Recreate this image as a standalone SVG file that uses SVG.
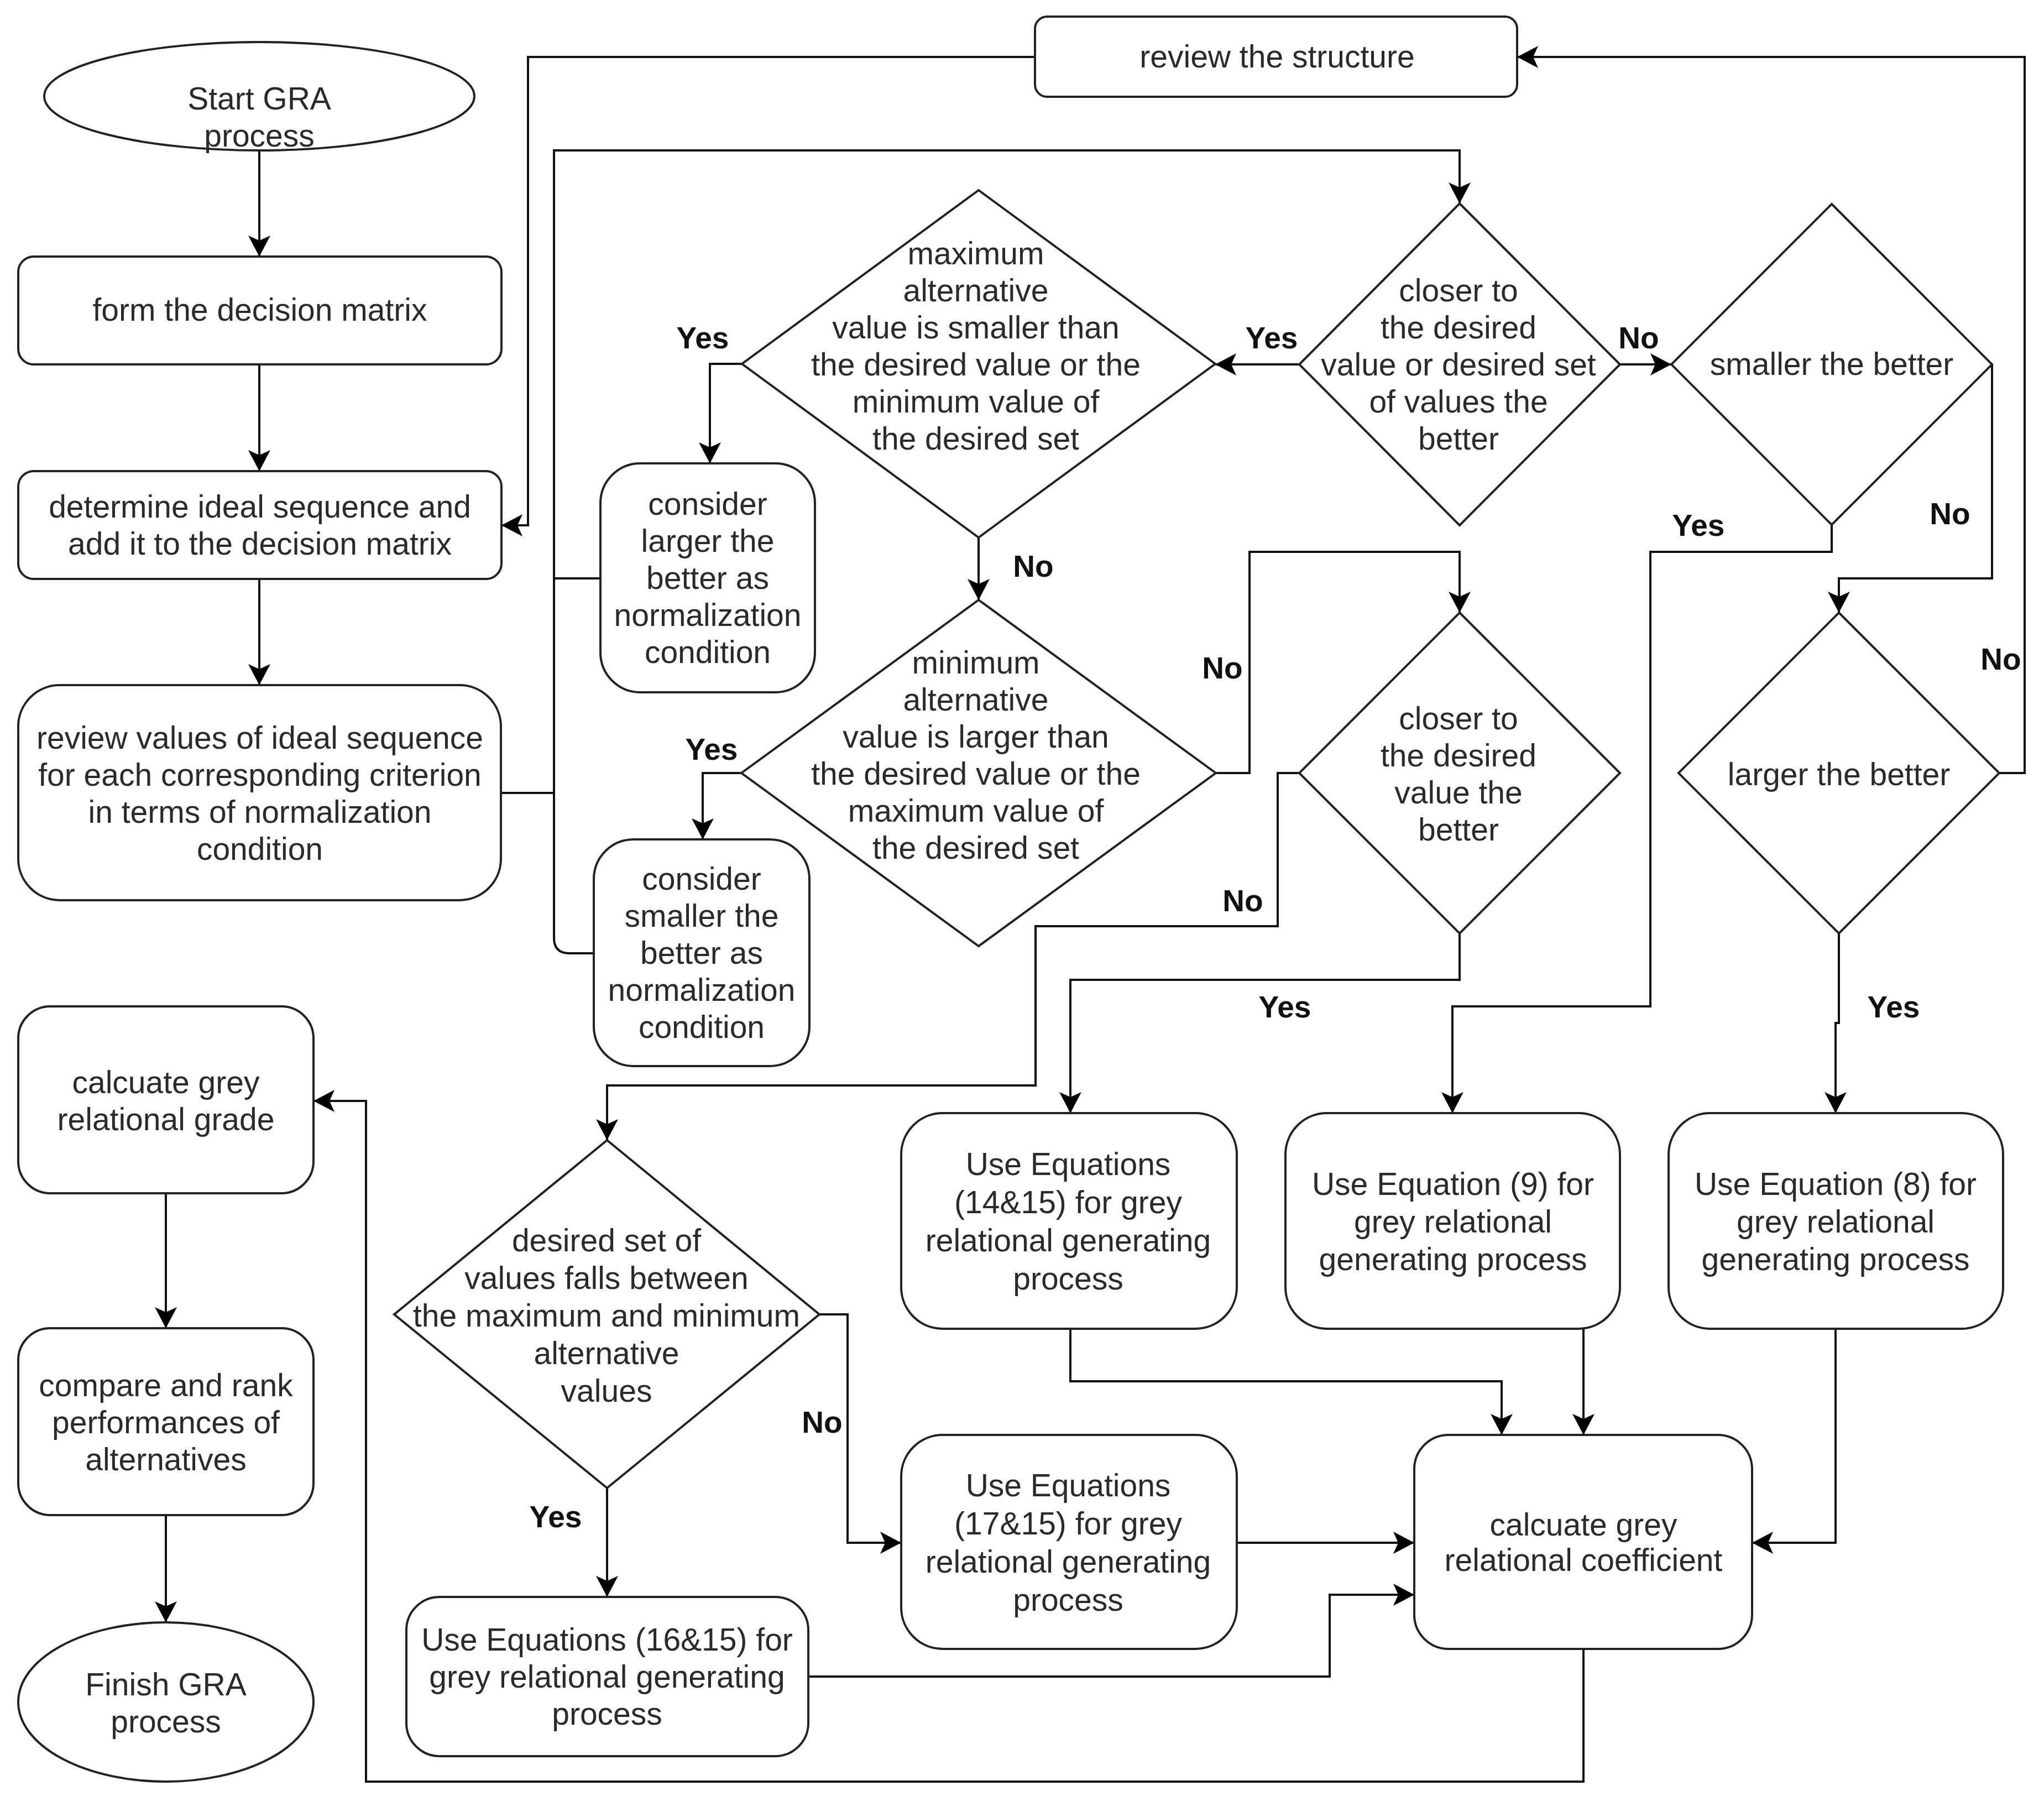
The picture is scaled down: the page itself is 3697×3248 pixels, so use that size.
<svg xmlns="http://www.w3.org/2000/svg" width="3697" height="3248" viewBox="0 0 3697 3248">
<style>
.n{fill:#fff;stroke:#222;stroke-width:4}
.t{font-family:"Liberation Sans",Arial,sans-serif;font-size:57px;fill:#2a2a2a;text-anchor:middle}
.l{font-family:"Liberation Sans",Arial,sans-serif;font-size:55px;font-weight:bold;fill:#111;text-anchor:middle}
.c{fill:none;stroke:#111;stroke-width:4}
.a{marker-end:url(#arr)}
</style>
<defs>
<marker id="arr" viewBox="0 0 38 40" refX="38" refY="20" markerWidth="38" markerHeight="40" markerUnits="userSpaceOnUse" orient="auto">
<path d="M0,0 L38,20 L0,40 L9,20 Z" fill="#000"/>
</marker>
</defs>
<rect width="3697" height="3248" fill="#fff"/>
<g id="connectors">
<path class="c a" d="M469,272 V464"/>
<path class="c a" d="M469,659 V852"/>
<path class="c a" d="M469,1047 V1239"/>
<path class="c a" d="M1872,103 H955 V950 H907"/>
<path class="c a" d="M906,1434 H1002 V272 H2640 V368"/>
<path class="c" d="M1086,1046 H1002"/>
<path class="c" d="M1074,1724 H1030 Q1002,1724 1002,1696 V1434"/>
<path class="c a" d="M2350,659 H2198"/>
<path class="c a" d="M2930,659 H3023"/>
<path class="c a" d="M1342,658 H1284 V838"/>
<path class="c a" d="M1770,972 V1085"/>
<path class="c a" d="M1341,1398 H1271 V1518"/>
<path class="c a" d="M2199,1398 H2260 V998 H2640 V1108"/>
<path class="c a" d="M2350,1398 H2311 V1675 H1873 V1963 H1098 V2062"/>
<path class="c a" d="M2640,1688 V1772 H1936 V2013"/>
<path class="c a" d="M3313,949 V998 H2985 V1820 H2627 V2013"/>
<path class="c a" d="M3603,659 V1046 H3326 V1108"/>
<path class="c a" d="M3616,1398 H3662 V103 H2744"/>
<path class="c a" d="M3326,1688 V1850 H3320 V2013"/>
<path class="c a" d="M1098,2691 V2888"/>
<path class="c a" d="M1482,2377 H1533 V2790 H1630"/>
<path class="c a" d="M1936,2403 V2498 H2716 V2595"/>
<path class="c a" d="M2864,2403 V2595"/>
<path class="c a" d="M3320,2403 V2790 H3169"/>
<path class="c a" d="M2237,2790 H2558"/>
<path class="c a" d="M1462,3032 H2405 V2884 H2558"/>
<path class="c a" d="M2864,2982 V3222 H662 V1991 H567"/>
<path class="c a" d="M300,2158 V2402"/>
<path class="c a" d="M300,2740 V2934"/>
</g>
<g id="labels">
<text class="l" x="1271" y="630">Yes</text>
<text class="l" x="2300" y="630">Yes</text>
<text class="l" x="2964" y="630">No</text>
<text class="l" x="1869" y="1043">No</text>
<text class="l" x="3072" y="969">Yes</text>
<text class="l" x="3527" y="948">No</text>
<text class="l" x="1287" y="1374">Yes</text>
<text class="l" x="2211" y="1227">No</text>
<text class="l" x="3619" y="1211">No</text>
<text class="l" x="2248" y="1648">No</text>
<text class="l" x="2324" y="1840">Yes</text>
<text class="l" x="3425" y="1840">Yes</text>
<text class="l" x="1005" y="2762">Yes</text>
<text class="l" x="1487" y="2591">No</text>
</g>
<g id="start">
<ellipse class="n" cx="469" cy="174" rx="389" ry="98"/>
<text class="t"><tspan x="469" y="198">Start GRA</tspan><tspan x="469" y="265">process</tspan></text>
</g>
<g id="form">
<rect class="n" x="33" y="464" width="874" height="195" rx="28"/>
<text class="t"><tspan x="470" y="580">form the decision matrix</tspan></text>
</g>
<g id="determine">
<rect class="n" x="33" y="852" width="874" height="195" rx="28"/>
<text class="t"><tspan x="470" y="936">determine ideal sequence and</tspan><tspan x="470" y="1003">add it to the decision matrix</tspan></text>
</g>
<g id="reviewValues">
<rect class="n" x="33" y="1239" width="873" height="389" rx="75"/>
<text class="t"><tspan x="470" y="1354">review values of ideal sequence</tspan><tspan x="470" y="1421">for each corresponding criterion</tspan><tspan x="470" y="1488">in terms of normalization</tspan><tspan x="470" y="1555">condition</tspan></text>
</g>
<g id="reviewStructure">
<rect class="n" x="1872" y="30" width="872" height="145" rx="22"/>
<text class="t"><tspan x="2310" y="122">review the structure</tspan></text>
</g>
<g id="maxDiamond">
<polygon class="n" points="1770,344 2198,658 1770,972 1342,658"/>
<text class="t"><tspan x="1765" y="478">maximum</tspan><tspan x="1765" y="545">alternative</tspan><tspan x="1765" y="612">value is smaller than</tspan><tspan x="1765" y="679">the desired value or the</tspan><tspan x="1765" y="746">minimum value of</tspan><tspan x="1765" y="813">the desired set</tspan></text>
</g>
<g id="considerLarger">
<rect class="n" x="1086" y="838" width="388" height="414" rx="72"/>
<text class="t"><tspan x="1280" y="931">consider</tspan><tspan x="1280" y="998">larger the</tspan><tspan x="1280" y="1065">better as</tspan><tspan x="1280" y="1132">normalization</tspan><tspan x="1280" y="1199">condition</tspan></text>
</g>
<g id="minDiamond">
<polygon class="n" points="1770,1085 2199,1398 1770,1711 1341,1398"/>
<text class="t"><tspan x="1765" y="1218">minimum</tspan><tspan x="1765" y="1285">alternative</tspan><tspan x="1765" y="1352">value is larger than</tspan><tspan x="1765" y="1419">the desired value or the</tspan><tspan x="1765" y="1486">maximum value of</tspan><tspan x="1765" y="1553">the desired set</tspan></text>
</g>
<g id="considerSmaller">
<rect class="n" x="1074" y="1518" width="390" height="410" rx="72"/>
<text class="t"><tspan x="1269" y="1609">consider</tspan><tspan x="1269" y="1676">smaller the</tspan><tspan x="1269" y="1743">better as</tspan><tspan x="1269" y="1810">normalization</tspan><tspan x="1269" y="1877">condition</tspan></text>
</g>
<g id="closerSet">
<polygon class="n" points="2640,368 2930,659 2640,950 2350,659"/>
<text class="t"><tspan x="2638" y="545">closer to</tspan><tspan x="2638" y="612">the desired</tspan><tspan x="2638" y="679">value or desired set</tspan><tspan x="2638" y="746">of values the</tspan><tspan x="2638" y="813">better</tspan></text>
</g>
<g id="smallerBetter">
<polygon class="n" points="3313,369 3603,659 3313,949 3023,659"/>
<text class="t"><tspan x="3313" y="678">smaller the better</tspan></text>
</g>
<g id="closerValue">
<polygon class="n" points="2640,1108 2930,1398 2640,1688 2350,1398"/>
<text class="t"><tspan x="2638" y="1319">closer to</tspan><tspan x="2638" y="1386">the desired</tspan><tspan x="2638" y="1453">value the</tspan><tspan x="2638" y="1520">better</tspan></text>
</g>
<g id="largerBetter">
<polygon class="n" points="3326,1108 3616,1398 3326,1688 3036,1398"/>
<text class="t"><tspan x="3326" y="1420">larger the better</tspan></text>
</g>
<g id="desiredSet">
<polygon class="n" points="1098,2062 1482,2377 1098,2691 713,2377"/>
<text class="t"><tspan x="1097" y="2263">desired set of</tspan><tspan x="1097" y="2331">values falls between</tspan><tspan x="1097" y="2399">the maximum and minimum</tspan><tspan x="1097" y="2467">alternative</tspan><tspan x="1097" y="2535">values</tspan></text>
</g>
<g id="eq14">
<rect class="n" x="1630" y="2013" width="607" height="390" rx="75"/>
<text class="t"><tspan x="1932" y="2125">Use Equations</tspan><tspan x="1932" y="2194">(14&amp;15) for grey</tspan><tspan x="1932" y="2263">relational generating</tspan><tspan x="1932" y="2332">process</tspan></text>
</g>
<g id="eq9">
<rect class="n" x="2325" y="2013" width="605" height="390" rx="75"/>
<text class="t"><tspan x="2628" y="2161">Use Equation (9) for</tspan><tspan x="2628" y="2229">grey relational</tspan><tspan x="2628" y="2297">generating process</tspan></text>
</g>
<g id="eq8">
<rect class="n" x="3018" y="2013" width="605" height="390" rx="75"/>
<text class="t"><tspan x="3320" y="2161">Use Equation (8) for</tspan><tspan x="3320" y="2229">grey relational</tspan><tspan x="3320" y="2297">generating process</tspan></text>
</g>
<g id="eq17">
<rect class="n" x="1630" y="2595" width="607" height="387" rx="75"/>
<text class="t"><tspan x="1932" y="2706">Use Equations</tspan><tspan x="1932" y="2775">(17&amp;15) for grey</tspan><tspan x="1932" y="2844">relational generating</tspan><tspan x="1932" y="2913">process</tspan></text>
</g>
<g id="coefficient">
<rect class="n" x="2558" y="2595" width="611" height="387" rx="62"/>
<text class="t"><tspan x="2864" y="2777">calcuate grey</tspan><tspan x="2864" y="2841">relational coefficient</tspan></text>
</g>
<g id="eq16">
<rect class="n" x="735" y="2888" width="727" height="288" rx="60"/>
<text class="t"><tspan x="1098" y="2985">Use Equations (16&amp;15) for</tspan><tspan x="1098" y="3052">grey relational generating</tspan><tspan x="1098" y="3119">process</tspan></text>
</g>
<g id="grade">
<rect class="n" x="33" y="1820" width="534" height="338" rx="58"/>
<text class="t"><tspan x="300" y="1977">calcuate grey</tspan><tspan x="300" y="2044">relational grade</tspan></text>
</g>
<g id="compare">
<rect class="n" x="33" y="2402" width="534" height="338" rx="58"/>
<text class="t"><tspan x="300" y="2525">compare and rank</tspan><tspan x="300" y="2592">performances of</tspan><tspan x="300" y="2659">alternatives</tspan></text>
</g>
<g id="finish">
<ellipse class="n" cx="300" cy="3078" rx="267" ry="144"/>
<text class="t"><tspan x="300" y="3066">Finish GRA</tspan><tspan x="300" y="3133">process</tspan></text>
</g>
</svg>
